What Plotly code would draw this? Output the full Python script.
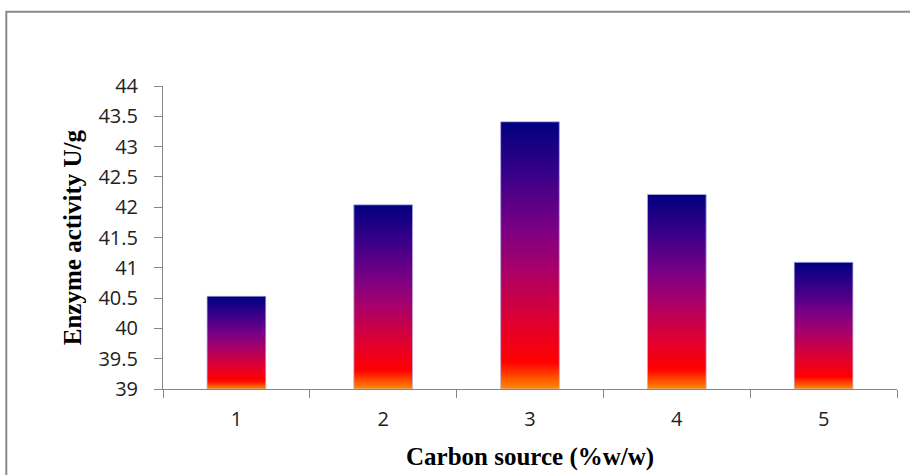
import plotly.graph_objects as go

categories = ["1", "2", "3", "4", "5"]
activity = [40.53, 42.04, 43.41, 42.21, 41.09]
y_ticks = [39, 39.5, 40, 40.5, 41, 41.5, 42, 42.5, 43, 43.5, 44]
y_tick_labels = ["39", "39.5", "40", "40.5", "41", "41.5", "42", "42.5", "43", "43.5", "44"]
baseline = 39

# gradient stops (fraction of bar height from bottom, RGB)
stops = [
    (0.00, (255, 140, 0)),
    (0.10, (255, 0, 0)),
    (0.25, (224, 0, 48)),
    (0.45, (168, 0, 106)),
    (0.60, (122, 0, 133)),
    (0.80, (58, 0, 136)),
    (1.00, (0, 0, 128)),
]


def grad(t):
    for (t0, c0), (t1, c1) in zip(stops[:-1], stops[1:]):
        if t <= t1:
            f = (t - t0) / (t1 - t0) if t1 > t0 else 0
            return "rgb(%d,%d,%d)" % tuple(round(a + (b - a) * f) for a, b in zip(c0, c1))
    return "rgb(%d,%d,%d)" % stops[-1][1]


N = 120
xs, bases, hs, cols = [], [], [], []
for cat, v in zip(categories, activity):
    h = (v - baseline) / N
    for i in range(N):
        b = baseline + i * h
        xs.append(cat)
        bases.append(b)
        hs.append(min(h * 1.8, v - b))
        cols.append(grad((i + 0.5) / N))

fig = go.Figure()
fig.add_trace(go.Bar(
    x=xs, y=hs, base=bases,
    marker=dict(color=cols, line=dict(width=0)),
    width=0.4, hoverinfo="skip", showlegend=False,
))
fig.add_trace(go.Bar(
    x=categories, y=[v - baseline for v in activity], base=[baseline] * len(activity),
    marker=dict(color="rgba(0,0,0,0)", line=dict(color="rgba(190,190,235,0.8)", width=1)),
    width=0.4, showlegend=False,
))

fig.update_layout(
    width=910, height=475, autosize=False,
    margin=dict(l=163, r=13, t=86, b=86),
    plot_bgcolor="white", paper_bgcolor="white",
    barmode="overlay",
    xaxis=dict(
        type="category", range=[-0.5, 4.5], tickson="boundaries",
        ticks="outside", ticklen=8, tickcolor="#868686",
        showline=True, linecolor="#868686", linewidth=1,
        showgrid=False, zeroline=False,
        tickfont=dict(family="Open Sans", size=20, color="#222"),
        ticklabelstandoff=12,
    ),
    yaxis=dict(
        range=[39, 44], tickvals=y_ticks, ticktext=y_tick_labels,
        ticks="outside", ticklen=8, tickcolor="#868686",
        showline=True, linecolor="#868686", linewidth=1,
        showgrid=False, zeroline=False,
        tickfont=dict(family="Open Sans", size=20, color="#222"),
        ticklabelstandoff=12,
    ),
    annotations=[
        dict(text="<b>Carbon source (%w/w)</b>", xref="paper", yref="paper",
             x=0.5, y=-0.223, showarrow=False, xanchor="center", yanchor="middle",
             font=dict(family="Liberation Serif", size=25, color="black")),
        dict(text="<b>Enzyme activity U/g</b>", xref="paper", yref="paper",
             x=-0.123, y=0.5, showarrow=False, textangle=-90, xanchor="center", yanchor="middle",
             font=dict(family="Liberation Serif", size=25, color="black")),
    ],
    shapes=[
        dict(type="rect", xref="paper", yref="paper", x0=-0.2135, y0=-0.3, x1=1.03, y1=1.245,
             line=dict(color="#8a8a8a", width=2), fillcolor="rgba(0,0,0,0)", layer="below"),
    ],
)

fig.write_html("out.html")
